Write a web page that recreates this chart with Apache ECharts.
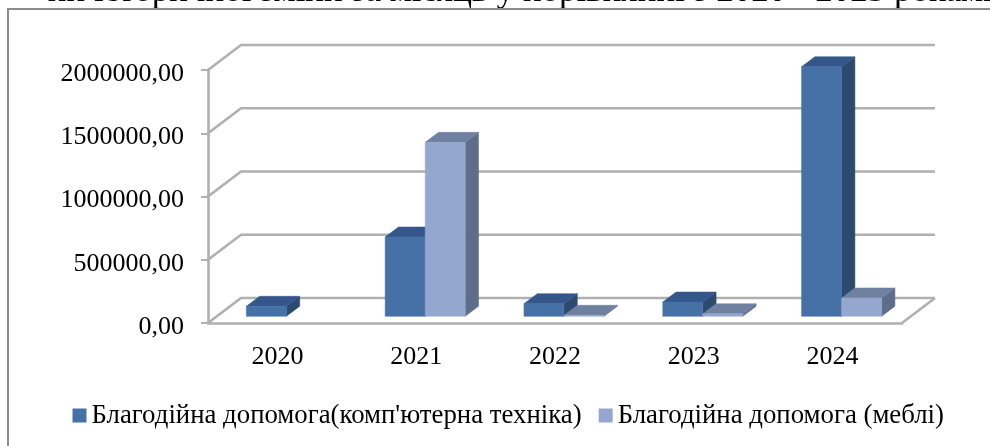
<!DOCTYPE html>
<html><head><meta charset="utf-8">
<script src="https://cdn.jsdelivr.net/npm/echarts@6/dist/echarts.min.js"></script>
<style>html,body{margin:0;padding:0;background:#fff}#c{width:990px;height:446px}</style>
</head><body><div id="c"></div>
<script>
const categories = ['2020','2021','2022','2023','2024'];
const computers = [79000, 627000, 100000, 113000, 1973000];
const furniture = [0, 1375000, 8000, 20000, 145000];
const valueTicks = [0, 500000, 1000000, 1500000, 2000000];
const seriesNames = ["Благодійна допомога(комп'ютерна техніка)", 'Благодійна допомога (меблі)'];
const titleText = 'ни історичної зміни за місяць у порівнянні з 2020 - 2023 роками';

const FONT = '"Liberation Serif","Times New Roman",serif';
const GRAY = '#b0b0b0';
const WALL = {dx: 33, dy: -25};
const FRONT = {dx: 9, dy: -6.7};
const DEPTH = {dx: 13.3, dy: -10};

function poly(points, fill, z2) {
  return {type: 'polygon', z2: z2 || 0, shape: {points}, style: {fill, stroke: fill, lineWidth: 0.5}};
}
function barItem(colors, side) {
  return function (params, api) {
    const v = api.value(1);
    if (!v) return null;
    const base = api.coord([api.value(0), 0]);
    const top = api.coord([api.value(0), v]);
    const w = api.size([1, 0])[0] * 0.2884;
    const x0 = base[0] + FRONT.dx + (side === 0 ? -w : 0);
    const x1 = x0 + w;
    const yb = base[1] + FRONT.dy;
    const yt = top[1] + FRONT.dy;
    const d = DEPTH;
    return {type: 'group', children: [
      poly([[x1, yb], [x1 + d.dx, yb + d.dy], [x1 + d.dx, yt + d.dy], [x1, yt]], colors.side),
      poly([[x0, yt], [x1, yt], [x1 + d.dx, yt + d.dy], [x0 + d.dx, yt + d.dy]], colors.top),
      poly([[x0, yb], [x1, yb], [x1, yt], [x0, yt]], colors.front)
    ]};
  };
}
function wallItem(params, api) {
  const v = api.value(1);
  const y = api.coord([0, v])[1];
  const cs = params.coordSys;
  const x0 = cs.x, x1 = cs.x + cs.width;
  const children = [{type: 'polyline', shape: {points: [[x0, y], [x0 + WALL.dx, y + WALL.dy], [x1 + WALL.dx, y + WALL.dy]]},
    style: {stroke: GRAY, lineWidth: 2.6, fill: null}}];
  if (v === 0) children.push({type: 'line', shape: {x1: x1, y1: y, x2: x1 + WALL.dx, y2: y + WALL.dy},
    style: {stroke: GRAY, lineWidth: 2.6}});
  return {type: 'group', children};
}
const blue = {front: '#4571a6', top: '#35568a', side: '#2c4a6e'};
const light = {front: '#94a8cf', top: '#6f81a0', side: '#5e6e8a'};

const chart = echarts.init(document.getElementById('c'), null, {renderer: 'canvas'});
chart.setOption({
  animation: false,
  backgroundColor: '#fff',
  title: {text: titleText, right: -17, top: -31, textStyle: {fontFamily: FONT, fontSize: 35, fontWeight: 'normal', color: '#000'}},
  graphic: [
    {type: 'polyline', z: 10, shape: {points: [[8, 446], [8, 9], [990, 9]]}, style: {stroke: '#8c8c8c', lineWidth: 2, fill: null}}
  ],
  legend: {
    left: 67.5, top: 397, itemWidth: 14, itemHeight: 14, itemGap: 17,
    data: seriesNames.map(name => ({name, icon: 'rect'})),
    textStyle: {fontFamily: FONT, fontSize: 26.8, color: '#000', padding: [4, 0, 0, 0]},
    itemStyle: {borderWidth: 0}
  },
  grid: {left: 208, right: 88, top: 70, bottom: 123},
  xAxis: {
    type: 'category', data: categories, boundaryGap: true,
    axisLine: {lineStyle: {color: GRAY, width: 2.6}},
    axisTick: {length: 8, lineStyle: {color: GRAY, width: 2}},
    axisLabel: {fontFamily: FONT, fontSize: 26, color: '#000', margin: 21}
  },
  yAxis: {
    type: 'value', min: 0, max: 2000000, interval: 500000,
    axisLine: {show: true, lineStyle: {color: GRAY, width: 2.6}},
    axisTick: {show: true, length: 7, lineStyle: {color: GRAY, width: 2}},
    splitLine: {show: false},
    axisLabel: {fontFamily: FONT, fontSize: 26, color: '#000', margin: 24, verticalAlign: 'top', lineHeight: 8,
      formatter: v => v.toFixed(2).replace('.', ',')}
  },
  series: [
    {type: 'custom', name: 'wall', silent: true, z: 1, renderItem: wallItem, encode: {x: 0, y: 1},
      data: valueTicks.map(v => [0, v])},
    {type: 'custom', name: seriesNames[0], z: 3, itemStyle: {color: blue.front}, renderItem: barItem(blue, 0), encode: {x: 0, y: 1},
      data: computers.map((v, i) => [i, v])},
    {type: 'custom', name: seriesNames[1], z: 4, itemStyle: {color: light.front}, renderItem: barItem(light, 1), encode: {x: 0, y: 1},
      data: furniture.map((v, i) => [i, v])}
  ]
});
</script></body></html>
